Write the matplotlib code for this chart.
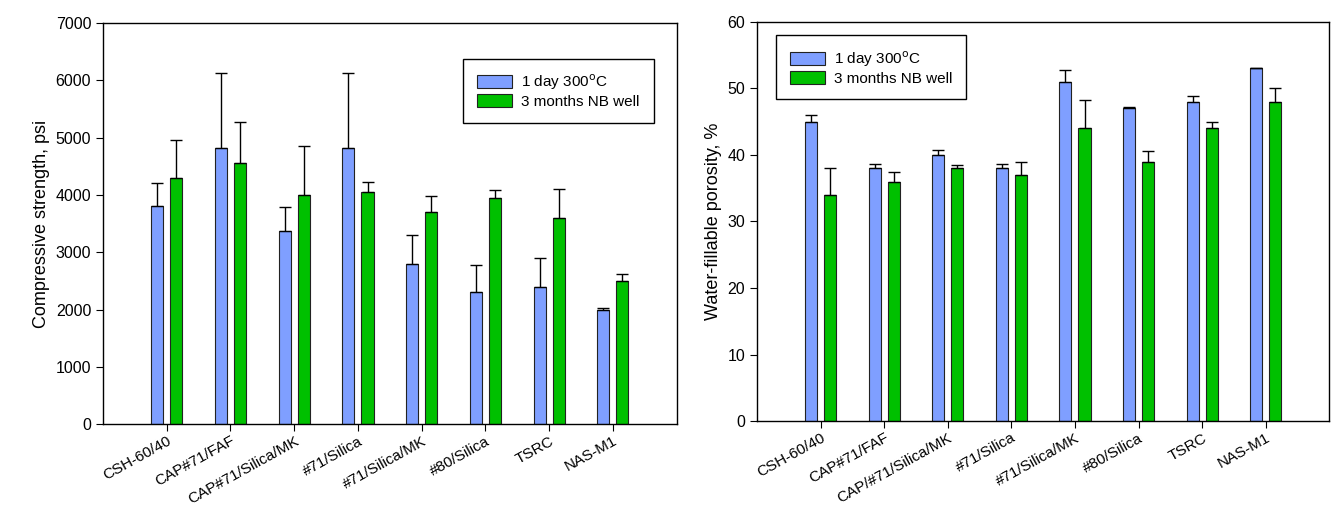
import matplotlib.pyplot as plt
import numpy as np

plt.rcParams['font.family'] = ['Liberation Sans', 'DejaVu Sans']

cements = ["CSH-60/40", "CAP#71/FAF", "CAP#71/Silica/MK", "#71/Silica",
           "#71/Silica/MK", "#80/Silica", "TSRC", "NAS-M1"]
cements_r = ["CSH-60/40", "CAP#71/FAF", "CAP/#71/Silica/MK", "#71/Silica",
             "#71/Silica/MK", "#80/Silica", "TSRC", "NAS-M1"]

# compressive strength, psi
str_300c = [3800, 4820, 3370, 4820, 2800, 2300, 2400, 2000]
str_300c_err = [400, 1310, 410, 1310, 500, 480, 500, 30]
str_nb = [4300, 4550, 4000, 4050, 3700, 3950, 3600, 2500]
str_nb_err = [650, 720, 860, 170, 280, 130, 500, 120]

# water-fillable porosity, %
por_300c = [45, 38, 40, 38, 51, 47, 48, 53]
por_300c_err = [1.0, 0.7, 0.8, 0.7, 1.8, 0.2, 0.8, 0.0]
por_nb = [34, 36, 38, 37, 44, 39, 44, 48]
por_nb_err = [4.0, 1.5, 0.5, 2.0, 4.3, 1.6, 1.0, 2.0]

labels = [r'1 day 300$^\mathrm{o}$C', '3 months NB well']
blue = '#7f9fff'
green = '#00c000'

fig = plt.figure(figsize=(13.4, 5.08), dpi=100)
ax1 = fig.add_axes([0.0769, 0.165, 0.428, 0.790])
ax2 = fig.add_axes([0.565, 0.171, 0.427, 0.786])

def draw(ax, names, a, a_err, b, b_err, ymax, ystep, ylabel, leg_pos):
    x = np.arange(len(names))
    w = 0.19
    ax.bar(x - 0.15, a, w, color=blue, edgecolor='#222222', linewidth=0.8, label=labels[0])
    ax.bar(x + 0.15, b, w, color=green, edgecolor='#222222', linewidth=0.8, label=labels[1])
    zeros = [0] * len(names)
    ax.errorbar(x - 0.15, a, yerr=[zeros, a_err], fmt='none', ecolor='black',
                elinewidth=1, capsize=4.5, capthick=1)
    ax.errorbar(x + 0.15, b, yerr=[zeros, b_err], fmt='none', ecolor='black',
                elinewidth=1, capsize=4.5, capthick=1)
    ax.set_xlim(-1, 8)
    ax.set_ylim(0, ymax)
    ax.set_yticks(np.arange(0, ymax + ystep, ystep))
    ax.set_xticks(x)
    ax.set_xticklabels(names, rotation=29, ha='right', rotation_mode='anchor', fontsize=11)
    ax.tick_params(axis='y', labelsize=11.5, direction='out', length=5)
    ax.tick_params(axis='x', direction='out', length=5, pad=2)
    ax.set_ylabel(ylabel, fontsize=13)
    for s in ax.spines.values():
        s.set_linewidth(1.0)
    ax.legend(loc='upper left', bbox_to_anchor=leg_pos, fontsize=11, frameon=True,
              fancybox=False, edgecolor='black', framealpha=1, borderpad=0.9,
              handlelength=2.3, handleheight=0.9, handletextpad=0.6, labelspacing=0.15)

draw(ax1, cements, str_300c, str_300c_err, str_nb, str_nb_err, 7000, 1000,
     'Compressive strength, psi', (0.615, 0.93))
draw(ax2, cements_r, por_300c, por_300c_err, por_nb, por_nb_err, 60, 10,
     'Water-fillable porosity, %', (0.02, 0.985))

fig.savefig('out.png', dpi=100)
